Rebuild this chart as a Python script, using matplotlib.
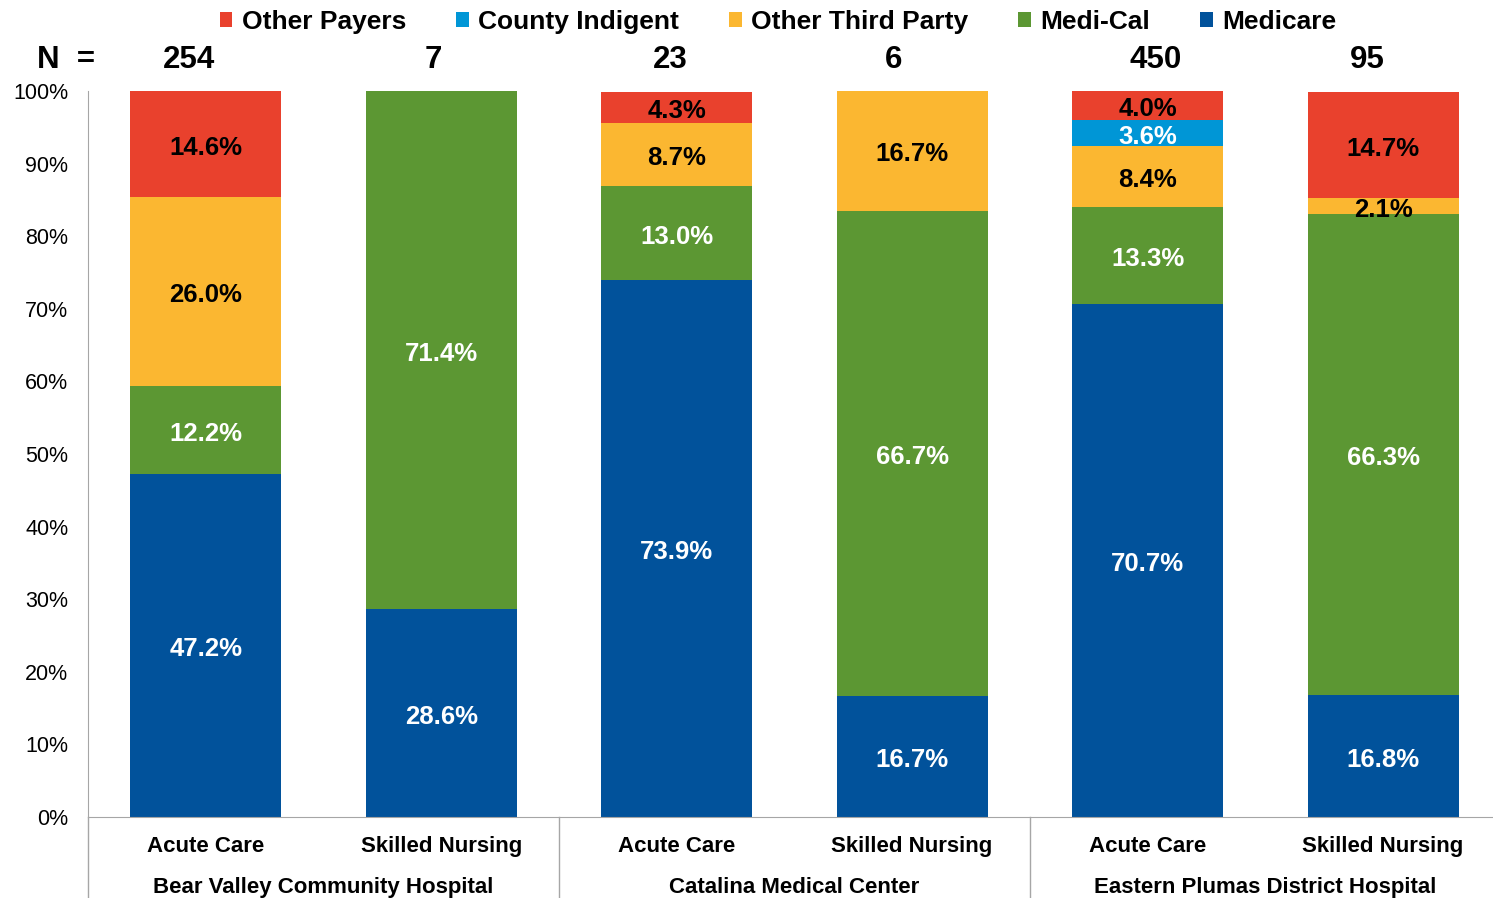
import matplotlib
matplotlib.use("Agg")
import matplotlib.pyplot as plt
import numpy as np

plt.rcParams['font.family'] = ['Liberation Sans', 'DejaVu Sans']

categories = ['Acute Care', 'Skilled Nursing'] * 3
hospitals = ['Bear Valley Community Hospital', 'Catalina Medical Center',
             'Eastern Plumas District Hospital']
counts = [254, 7, 23, 6, 450, 95]

medicare = [47.2, 28.6, 73.9, 16.7, 70.7, 16.8]
medi_cal = [12.2, 71.4, 13.0, 66.7, 13.3, 66.3]
other_third = [26.0, 0, 8.7, 16.7, 8.4, 2.1]
county_indigent = [0, 0, 0, 0, 3.6, 0]
other_payers = [14.6, 0, 4.3, 0, 4.0, 14.7]

series = [
    ('Medicare', medicare, '#01529B', 'white'),
    ('Medi-Cal', medi_cal, '#5C9733', 'white'),
    ('Other Third Party', other_third, '#FBB731', 'black'),
    ('County Indigent', county_indigent, '#0096D6', 'white'),
    ('Other Payers', other_payers, '#E9412D', 'black'),
]

# small nudges for the N labels, as in the original slide
n_shift = [-0.07, -0.035, -0.025, -0.08, 0.035, -0.065]

fig = plt.figure(figsize=(14.93, 8.98), dpi=100)
ax = fig.add_axes([0.0589, 0.0902, 0.9411, 0.8085])

x = np.arange(len(categories))
bottom = np.zeros(len(categories))
handles = {}
for name, vals, color, tcolor in series:
    vals = np.array(vals, dtype=float)
    b = ax.bar(x, vals, 0.641, bottom=bottom, color=color, label=name, zorder=2)
    handles[name] = b
    for xi, v, bt in zip(x, vals, bottom):
        if v > 0:
            ax.text(xi, bt + v / 2 - 0.5, f'{v:.1f}%', ha='center', va='center',
                    fontsize=18.5, fontweight='bold', color=tcolor, zorder=3)
    bottom += vals

ax.set_xlim(-0.5, 5.467)
ax.set_ylim(0, 100)
ax.set_yticks(np.arange(0, 101, 10))
ax.set_yticklabels([f'{t}%' for t in range(0, 101, 10)], fontsize=15.5)
ax.tick_params(axis='y', length=0, pad=14)
ax.set_xticks([])
for s in ['top', 'right']:
    ax.spines[s].set_visible(False)
ax.spines['left'].set_color('#A6A6A6')
ax.spines['bottom'].set_color('#A6A6A6')

# category and group labels
for xi, c in zip(x, categories):
    ax.text(xi, -4.1, c, ha='center', va='center', fontsize=16,
            fontweight='bold', clip_on=False)
for i, h in enumerate(hospitals):
    ax.text(2 * i + 0.5, -9.65, h, ha='center', va='center', fontsize=16,
            fontweight='bold', clip_on=False)
for sep in [-0.5, 1.5, 3.5]:
    ax.plot([sep, sep], [0, -11.2], color='#A6A6A6', lw=1, clip_on=False)

# N row
ax.text(-0.594, 104.3, 'N  =', ha='center', va='center', fontsize=22.5,
        fontweight='bold', clip_on=False)
for xi, n, sh in zip(x, counts, n_shift):
    ax.text(xi + sh, 104.3, str(n), ha='center', va='center', fontsize=22.5,
            fontweight='bold', clip_on=False)

order = ['Other Payers', 'County Indigent', 'Other Third Party', 'Medi-Cal', 'Medicare']
leg = fig.legend([handles[o] for o in order], order, loc='center',
                 bbox_to_anchor=(0.521, 0.976), ncol=5, frameon=False,
                 prop={'size': 19, 'weight': 'bold'}, handlelength=0.48,
                 handleheight=0.48, handletextpad=0.35, columnspacing=1.9)

fig.savefig('out.png', dpi=100)
